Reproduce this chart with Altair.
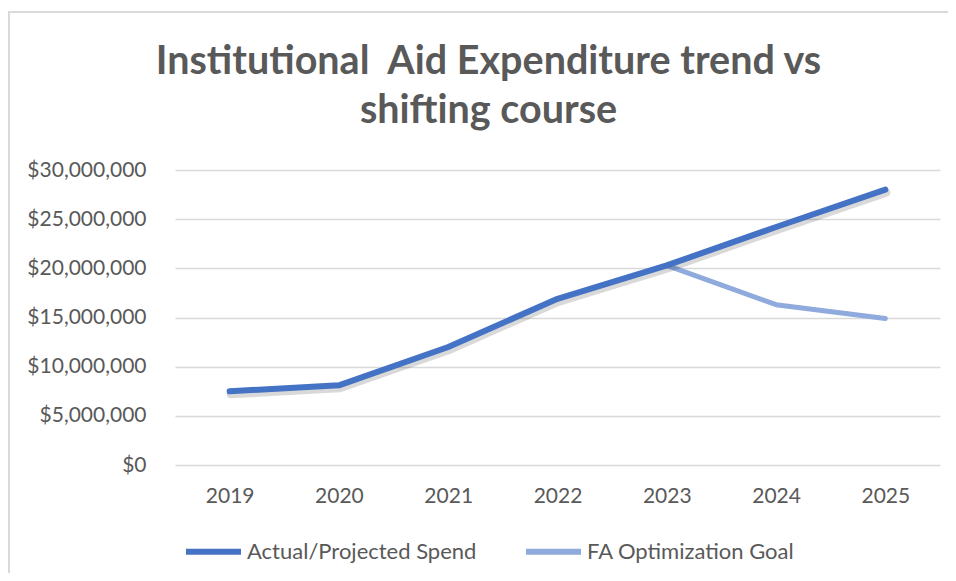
import altair as alt
import pandas as pd

years = ["2019", "2020", "2021", "2022", "2023", "2024", "2025"]
actual = [7500000, 8100000, 12000000, 16900000, 20300000, 24200000, 28000000]
goal_years = ["2023", "2024", "2025"]
goal = [20300000, 16300000, 14900000]
series_names = ["Actual/Projected Spend", "FA Optimization Goal"]
series_colors = ["#4472C4", "#8FAADC"]

rows = [{"year": y, "value": v, "series": series_names[0]} for y, v in zip(years, actual)]
rows += [{"year": y, "value": v, "series": series_names[1]} for y, v in zip(goal_years, goal)]
df = pd.DataFrame(rows)

FONT = "Lato"
GREY = "#595959"

x_enc = alt.X("year:O", scale=alt.Scale(type="point", padding=0.5, domain=years),
              axis=alt.Axis(title=None, labelAngle=0, ticks=False, domain=False,
                            labelPadding=20, labelFontSize=21, labelColor=GREY, labelFont=FONT))
y_enc = alt.Y("value:Q", scale=alt.Scale(domain=[0, 30000000], nice=False),
              axis=alt.Axis(title=None, format="$,.0f", values=[0, 5000000, 10000000, 15000000, 20000000, 25000000, 30000000],
                            ticks=False, domain=False, labelPadding=29, labelFontSize=21,
                            labelColor=GREY, labelFont=FONT, gridColor="#d9d9d9", gridWidth=1.5))

color = alt.Color("series:N", scale=alt.Scale(domain=series_names, range=series_colors),
                  legend=alt.Legend(title=None, orient="none", legendX=8, legendY=351, direction="horizontal",
                                    symbolType="stroke", symbolSize=3025, symbolStrokeWidth=6,
                                    labelFontSize=22, labelFont=FONT, labelColor=GREY, labelOffset=3,
                                    columnPadding=37, labelLimit=400))

base = alt.Chart(df)

goal_line = base.transform_filter(alt.datum.series == series_names[1]).mark_line(
    strokeWidth=5, strokeCap="round", strokeJoin="round").encode(x=x_enc, y=y_enc, color=color)

shadow = base.transform_filter(alt.datum.series == series_names[0]).mark_line(
    strokeWidth=8, strokeCap="round", strokeJoin="round", color="#000000", opacity=0.15,
    xOffset=1, yOffset=3).encode(x=x_enc, y=y_enc)

actual_line = base.transform_filter(alt.datum.series == series_names[0]).mark_line(
    strokeWidth=6, strokeCap="round", strokeJoin="round").encode(x=x_enc, y=y_enc, color=color)

frame_df = pd.DataFrame({"k": [0]})
frame = alt.Chart(frame_df).mark_rect(fill="white", fillOpacity=0, stroke="#d9d9d9", strokeWidth=2).encode(
    x=alt.value(-166), x2=alt.value(820), y=alt.value(-158), y2=alt.value(460))

chart = alt.layer(frame, goal_line, shadow, actual_line).properties(
    width=765, height=295,
    background="white",
    autosize=alt.AutoSizeParams(type="none"),
    padding={"left": 167, "top": 162, "right": 8, "bottom": 108},
    title=alt.TitleParams(text=["Institutional\u00a0\u00a0Aid Expenditure trend vs", "shifting course"],
                          font=FONT, fontSize=39.5, fontWeight="bold", color=GREY,
                          anchor="middle", frame="group", dx=-69, offset=-120, lineHeight=49),
).configure_view(stroke=None)

chart.save("out.html", embed_options={"renderer": "svg", "actions": False})
